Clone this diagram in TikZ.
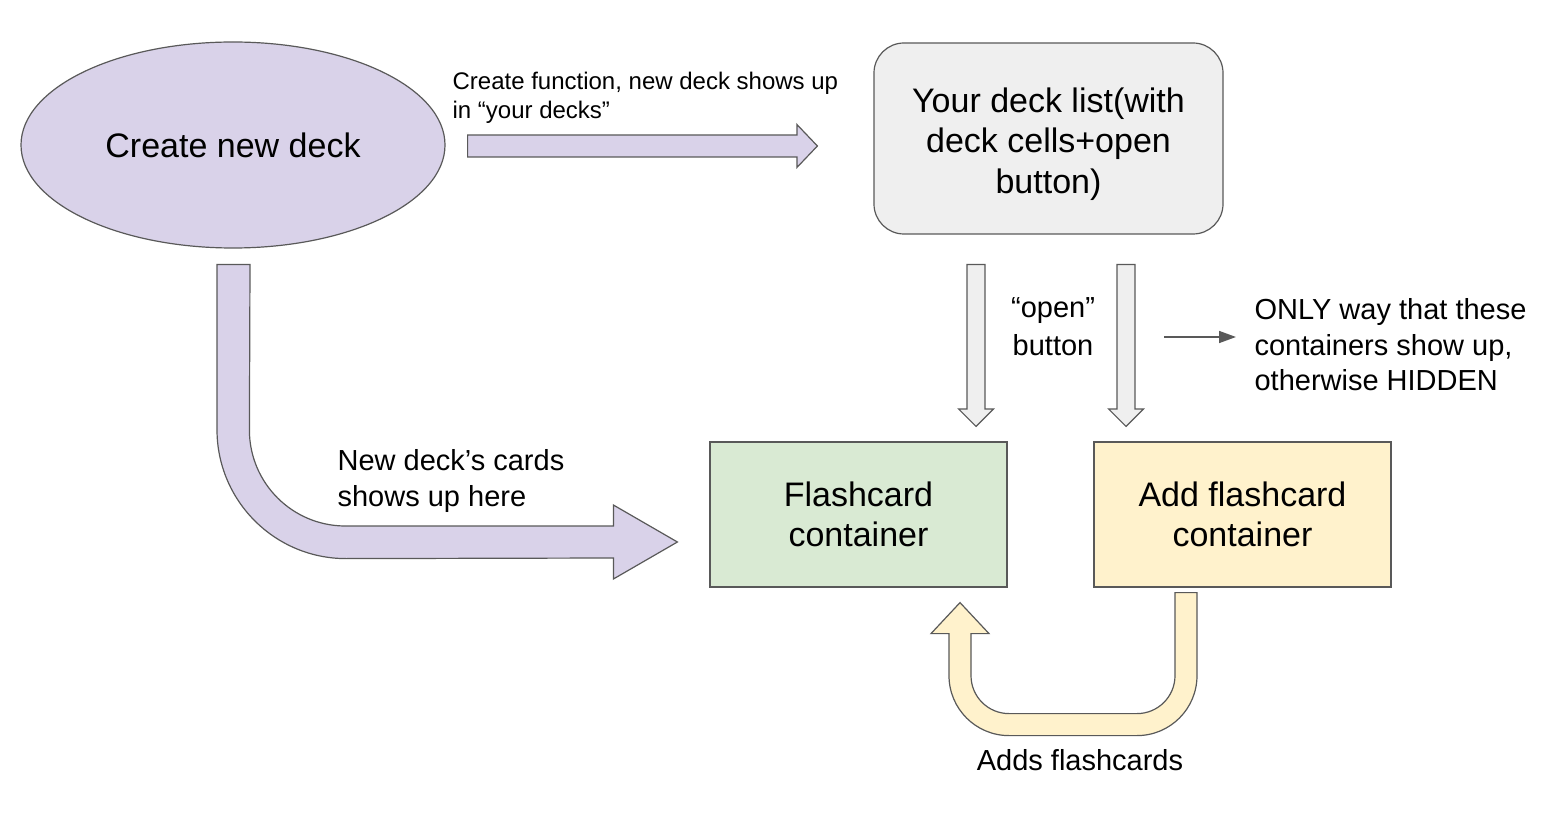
\documentclass[tikz,border=0pt]{standalone}
\usepackage{fontspec}
\setmainfont{Liberation Sans}
\usetikzlibrary{calc, arrows.meta, shapes.geometric}

\definecolor{edgegray}{HTML}{595959}
\definecolor{deckpurple}{HTML}{D9D2E9}
\definecolor{listgray}{HTML}{EFEFEF}
\definecolor{cardgreen}{HTML}{D9EAD3}
\definecolor{addyellow}{HTML}{FFF2CC}

\begin{document}
\begin{tikzpicture}[x=1pt, y=-1pt, line width=1.2pt,
  box/.style={draw=edgegray, rectangle, inner sep=0pt, align=center, font=\fontsize{34}{40.5}\selectfont},
  note/.style={inner sep=0pt, font=\fontsize{29}{35.5}\selectfont},
  blockarrow/.style={draw=edgegray, line join=miter}]
  \useasboundingbox (0,0) rectangle (1564,818);

  % Nodes
  \node[box, ellipse, fill=deckpurple, minimum width=424pt, minimum height=206pt] (create) at (233,145) {Create new deck};
  \node[box, rounded corners=30pt, fill=listgray, minimum width=349pt, minimum height=191pt] (decklist) at (1048.5,138.5) {\rule{0pt}{36pt}Your deck list(with\\deck cells+open\\button)};
  \node[box, fill=cardgreen, minimum width=297pt, minimum height=145pt] (flash) at (858.5,514.5) {Flashcard\\container};
  \node[box, fill=addyellow, minimum width=297pt, minimum height=145pt] (addflash) at (1242.5,514.5) {Add flashcard\\container};

  % Labels
  \node[note, font=\fontsize{24}{29}\selectfont, align=left, anchor=west] (fnlabel) at (452,98) {Create function, new deck shows up\\in “your decks”};
  \node[note, font=\fontsize{29}{38}\selectfont, align=center] (openlabel) at (1053,327) {“open”\\button};
  \node[note, align=left, anchor=west] (onlylabel) at (1254,345) {ONLY way that these\\containers show up,\\otherwise HIDDEN};
  \node[note, align=left, anchor=west] (newlabel) at (337,481) {New deck’s cards\\shows up here};
  \node[note] (addslabel) at (1080,760) {Adds flashcards};

  % Arrow ends
  \coordinate (a1s) at ($(create.east)+(22,1)$);
  \coordinate (a1e) at ($(decklist.west)+(-56,7.5)$);
  \coordinate (o1s) at ($(decklist.south)+(-72.5,30)$);
  \coordinate (o1e) at ($(flash.north -| o1s)+(0,-15)$);
  \coordinate (o2s) at ($(decklist.south)+(77.5,30)$);
  \coordinate (o2e) at ($(addflash.north -| o2s)+(0,-15)$);
  \coordinate (l1s) at ($(create.south)+(0.5,16)$);
  \coordinate (l1e) at ($(flash.west)+(-32,27.5)$);
  \coordinate (u1s) at ($(addflash.south)+(-56.5,5)$);
  \coordinate (u1e) at ($(flash.south)+(101.5,15)$);
  \coordinate (onlytail) at (1164,337);

  % Arrows
  \draw[blockarrow, fill=deckpurple] ($(a1s)+(0,-11)$) -- ($(a1e)+(-20.5,-11)$) -- ++(0,-10.5) -- (a1e)
    -- ++(-20.5,21.5) -- ++(0,-10.5) -- ($(a1s)+(0,11)$) -- cycle;
  \draw[blockarrow, fill=listgray] ($(o1s)+(-9,0)$) -- ($(o1e)+(-9,-17.5)$) -- ++(-8.5,0) -- (o1e)
    -- ++(17.5,-17.5) -- ++(-8.5,0) -- ($(o1s)+(9,0)$) -- cycle;
  \draw[blockarrow, fill=listgray] ($(o2s)+(-9,0)$) -- ($(o2e)+(-9,-17.5)$) -- ++(-8.5,0) -- (o2e)
    -- ++(17.5,-17.5) -- ++(-8.5,0) -- ($(o2s)+(9,0)$) -- cycle;
  \draw[blockarrow, fill=deckpurple] ($(l1s)+(-16.5,0)$) -- ++(0,165) arc[start angle=180, end angle=90, radius=129]
    -- ($(l1e)+(-64,16)$) -- ++(0,21) -- (l1e) -- ++(-64,-37) -- ++(0,21) -- ++(-268,0)
    arc[start angle=90, end angle=180, radius=96] -- ($(l1s)+(16.5,0)$) -- cycle;
  \draw[blockarrow, fill=addyellow] ($(u1s)+(11,0)$) -- ++(0,83) arc[start angle=0, end angle=90, radius=60]
    -- ++(-128,0) arc[start angle=90, end angle=180, radius=60] -- ($(u1e)+(-11,31)$) -- ++(-18,0) -- (u1e)
    -- ++(29,31) -- ++(-18,0) -- ++(0,42) arc[start angle=180, end angle=90, radius=38]
    -- ++(128,0) arc[start angle=90, end angle=0, radius=38] -- ($(u1s)+(-11,0)$) -- cycle;
  \draw[edgegray, line width=1.6pt, -{Triangle[length=17pt, width=12pt]}, shorten >=18pt] (onlytail) -- (onlytail -| onlylabel.west);
\end{tikzpicture}
\end{document}
